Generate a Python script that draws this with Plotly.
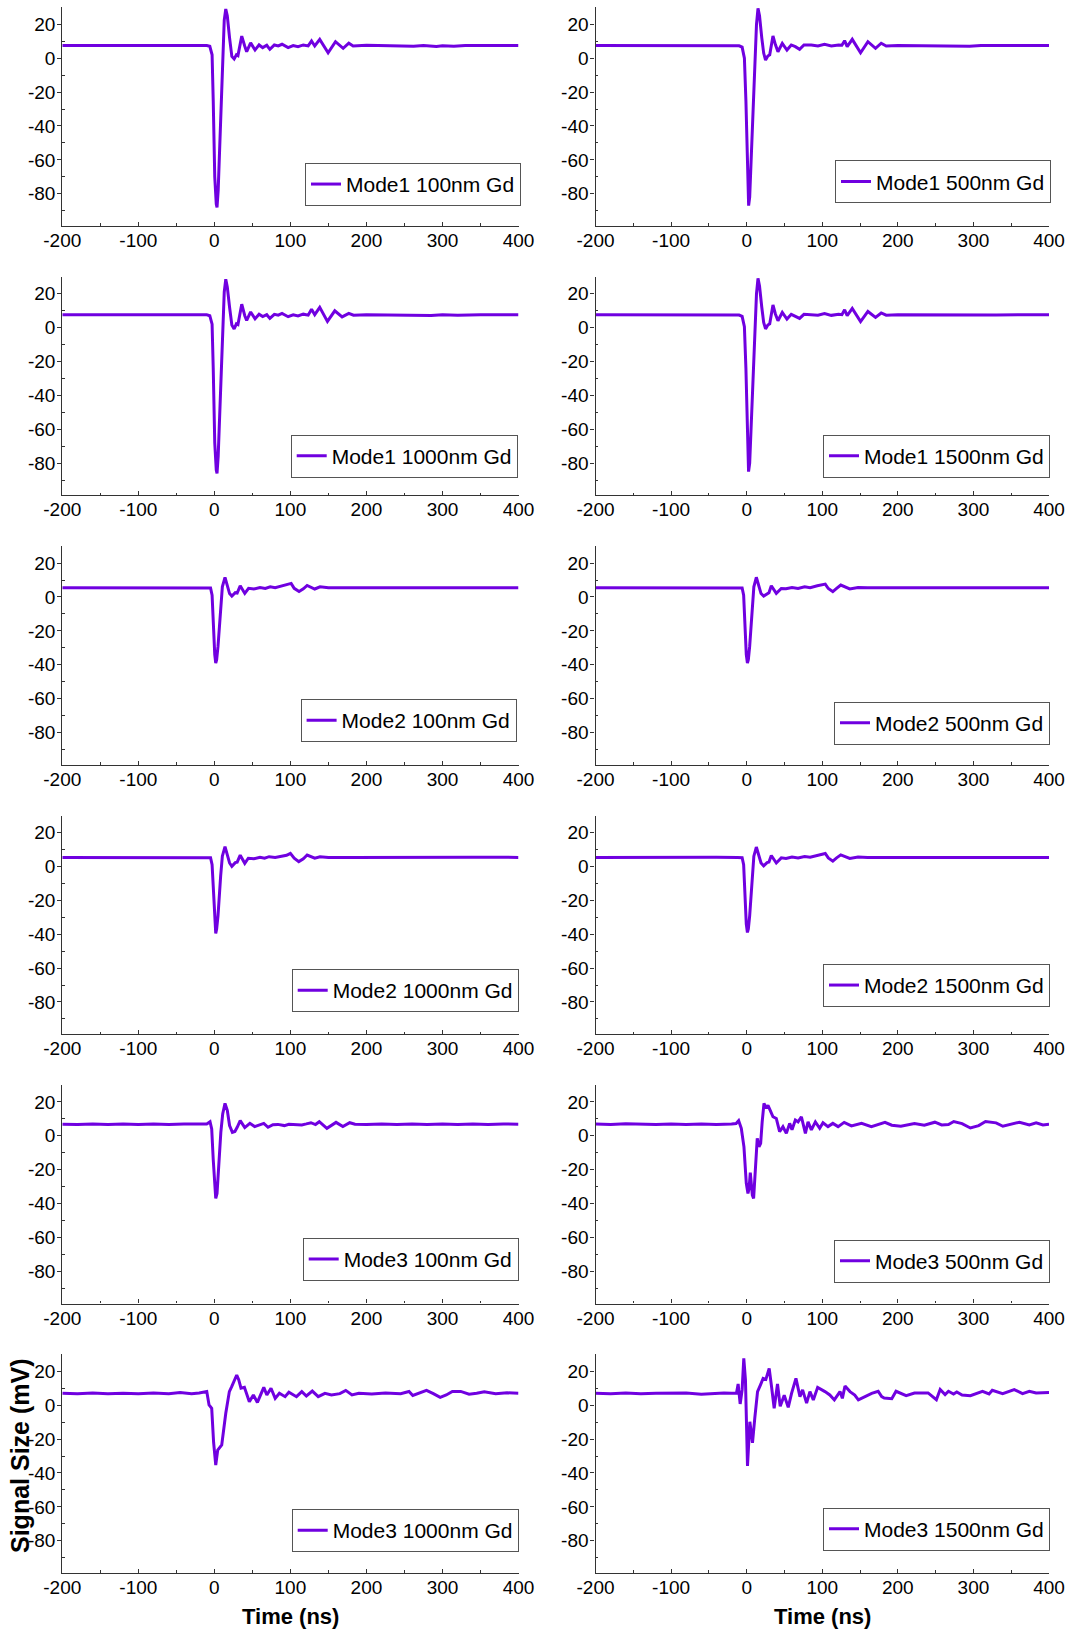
import plotly.graph_objects as go

# Oscilloscope traces: (time in ns, signal in mV)
m1_100 = [(-200, 7.5), (-170, 7.5), (-140, 7.4), (-110, 7.5), (-80, 7.5), (-50, 7.4), (-20, 7.5), (-10, 7.5),
          (-6, 7.0), (-3, 2.0), (-1.5, -25), (0.5, -70), (2.5, -86), (3.5, -88), (5, -78), (7.5, -44), (10.5, -5),
          (13, 22.5), (15, 29), (17, 25), (20, 12), (23, 1), (26, -0.5), (29, 2), (31, 1.5), (36, 13), (40, 7),
          (42.5, 3.8), (47.7, 9), (53.5, 4.8), (58.8, 7.8), (63.6, 6.2), (68.9, 7.6), (73, 5.2), (78.9, 7.8),
          (84, 7.2), (89, 8.2), (97, 6.2), (103.7, 7.4), (110, 6.8), (116.9, 7.8), (123.4, 7.2), (127.8, 10.1),
          (132, 7.2), (138.6, 11.1), (149.6, 3.2), (159.3, 9.7), (169.4, 5.8), (176.8, 8.8), (182.5, 7.2),
          (200, 7.6), (230, 7.4), (262, 7.0), (275, 7.5), (292, 6.9), (300, 7.3), (315, 7.0), (330, 7.5),
          (360, 7.4), (400, 7.5)]

m1_500 = [(-200, 7.4), (-170, 7.4), (-140, 7.5), (-110, 7.4), (-80, 7.4), (-50, 7.5), (-20, 7.4), (-10, 7.3),
          (-6, 6.5), (-3, 0), (-1, -25), (1, -68), (2.6, -87), (4, -82), (6, -60), (8.5, -30), (11, 0), (13, 20),
          (15, 29.4), (17, 25), (20, 12), (22.5, 3), (25, -1.1), (28, 1.3), (30.5, 2), (34.8, 13.1), (38, 8),
          (41.4, 3.8), (47.1, 8.7), (53.3, 4.8), (59, 7.8), (64.4, 6.8), (70, 5.2), (75.8, 7.8), (85.5, 7.8),
          (94.3, 7.2), (103, 8.2), (112, 7.2), (121.7, 7.8), (126, 7.6), (129.6, 10.3), (133, 6.8), (139.7, 11.1),
          (150.7, 3.2), (160.4, 9.7), (170.5, 5.8), (178, 8.8), (184.6, 7.2), (200, 7.5), (230, 7.3), (260, 7.5),
          (280, 7.2), (295, 7.0), (310, 7.4), (330, 7.3), (360, 7.5), (400, 7.4)]

m1_1000 = [(-200, 7.5), (-170, 7.6), (-140, 7.5), (-110, 7.5), (-80, 7.6), (-50, 7.5), (-20, 7.5), (-10, 7.5),
           (-6, 7.0), (-3, 2.0), (-1.5, -24), (0.5, -68), (2.5, -84), (3.5, -86), (5, -76), (7.5, -43), (10.5, -5),
           (13, 21), (15, 28.5), (17, 24), (20, 12), (23, 1.5), (26, -0.8), (29, 2.2), (31, 1.8), (36, 13.8),
           (40, 7), (42.5, 4.2), (47.7, 9.2), (53.5, 5.2), (58.8, 7.9), (63.6, 6.5), (68.9, 7.6), (73, 5.4),
           (78.9, 7.8), (84, 7.3), (89, 8.3), (97, 6.4), (103.7, 7.5), (110, 6.9), (116.9, 7.9), (123.4, 7.3),
           (127.8, 10.8), (132, 7.6), (138.6, 11.9), (148.7, 3.6), (158.4, 9.9), (168, 6.3), (176.8, 8.4),
           (183, 7.3), (200, 7.6), (230, 7.4), (260, 7.5), (285, 7.1), (300, 7.5), (320, 7.3), (350, 7.5),
           (380, 7.4), (400, 7.5)]

m1_1500 = [(-200, 7.5), (-170, 7.5), (-140, 7.4), (-110, 7.5), (-80, 7.5), (-50, 7.4), (-20, 7.5), (-10, 7.4),
           (-6, 6.6), (-3, 0.5), (-1, -24), (1, -66), (2.5, -85), (4, -80), (6, -58), (8.5, -29), (11, 0), (13, 20),
           (15, 29), (17, 24.5), (20, 12), (22.5, 3), (25, -0.8), (28, 1.5), (30.5, 2.2), (34.8, 13.3), (38, 8),
           (41.4, 4), (47.1, 8.9), (53.3, 5), (59, 7.8), (64.4, 6.8), (70, 5.4), (75.8, 7.8), (85.5, 7.6),
           (94.3, 7.3), (103, 8.2), (112, 7.2), (121.7, 7.8), (126, 7.6), (129.6, 10.5), (133, 7), (139.7, 11.3),
           (150.7, 3.5), (160.4, 9.5), (170.5, 6), (178, 8.6), (184.6, 7.3), (200, 7.5), (230, 7.4), (260, 7.5),
           (285, 7.2), (300, 7.4), (330, 7.4), (360, 7.5), (400, 7.5)]

m2_100 = [(-200, 5.5), (-160, 5.5), (-120, 5.4), (-80, 5.5), (-40, 5.5), (-12, 5.5), (-5, 5.3), (-3, 1), (-1, -20),
          (0.5, -34), (1.8, -39), (3, -37), (4.8, -29), (8.3, -5.8), (10.5, 6), (14, 11.6), (17, 7), (20, 2),
          (23, 0.5), (27.5, 2.5), (30, 2.3), (34, 6.6), (40, 2.1), (45, 5.1), (52, 4.7), (60, 5.6), (67, 5.0),
          (73.5, 6), (80, 5.4), (90, 6.6), (97, 7.4), (101, 8), (105, 5.1), (111.4, 3.2), (117, 4.8), (122, 6.8),
          (132, 4.7), (139, 6), (150, 5.5), (180, 5.4), (220, 5.5), (260, 5.4), (300, 5.5), (340, 5.5), (400, 5.5)]

m2_500 = [(-200, 5.5), (-160, 5.5), (-120, 5.5), (-80, 5.4), (-40, 5.5), (-12, 5.5), (-6, 5.3), (-4, 1), (-2, -20),
          (-0.5, -34), (1, -39), (2.2, -37), (4, -29), (7.3, -5.8), (9.5, 6), (12.8, 11.6), (16, 7), (19, 2),
          (22.5, 0.5), (27, 2.1), (29.5, 2.5), (32.6, 6.6), (39.2, 2.1), (45.8, 5), (52, 4.8), (60, 5.6), (68, 5.0),
          (76.7, 6), (84, 5.5), (93.5, 6.6), (99, 7), (104, 7.6), (108, 5), (114, 3.1), (119, 5), (124.5, 7),
          (136.4, 4.7), (147.4, 5.6), (160, 5.5), (200, 5.5), (240, 5.4), (280, 5.5), (320, 5.5), (360, 5.4),
          (400, 5.5)]

m2_1000 = [(-200, 5.3), (-160, 5.3), (-120, 5.4), (-80, 5.3), (-40, 5.3), (-12, 5.3), (-5, 5.1), (-3, 1), (-1, -20),
           (0.5, -34), (1.8, -39.5), (3, -37), (4.8, -29), (8.3, -5.5), (10.5, 6), (14, 11.6), (17, 7), (20, 2),
           (23, 0), (27.5, 2.2), (30, 2.5), (34, 6.6), (40, 1.8), (44.6, 4.8), (52, 4.5), (60, 5.4), (66, 4.8),
           (72, 5.7), (80, 5.3), (90, 6.1), (95, 6.5), (100, 7.7), (105, 4.8), (111, 2.8), (117, 4.5), (122, 6.7),
           (132, 4.8), (139, 5.7), (150, 5.3), (180, 5.3), (220, 5.4), (260, 5.3), (300, 5.3), (340, 5.4),
           (400, 5.3)]

m2_1500 = [(-200, 5.3), (-160, 5.4), (-120, 5.3), (-80, 5.3), (-40, 5.4), (-12, 5.3), (-6, 5.1), (-4, 1), (-2, -20),
           (-0.5, -34), (1, -39), (2.2, -37), (4, -29), (7.3, -5.5), (9.5, 6), (12.8, 11.4), (16, 7), (19, 2),
           (22.5, 0.3), (27, 2.2), (29.5, 2.5), (32.6, 6.4), (39.2, 2), (45.8, 5), (52, 4.6), (60, 5.5), (68, 4.9),
           (76.7, 5.8), (84, 5.4), (93.5, 6.5), (99, 7.2), (104, 7.6), (108, 5), (114, 3.1), (119, 5), (124.5, 6.8),
           (136.4, 4.7), (147.4, 5.5), (160, 5.3), (200, 5.3), (240, 5.4), (280, 5.3), (320, 5.3), (360, 5.4),
           (400, 5.3)]

m3_100 = [(-200, 6.8), (-180, 6.6), (-160, 7.0), (-140, 6.7), (-120, 6.9), (-100, 6.6), (-80, 7.0), (-60, 6.7),
          (-40, 6.9), (-20, 6.7), (-10, 7.0), (-5.7, 8.3), (-3.5, 4), (-1.5, -14), (0.5, -32), (1.8, -37),
          (3.5, -34), (5.5, -18), (8.5, 2), (11, 13), (14, 19.1), (17, 15), (20, 6), (23.7, 2), (27, 2.5), (30, 5),
          (34, 8.9), (40, 4.8), (46.7, 7.3), (53, 5.4), (59, 6.5), (65, 7.3), (70.6, 5), (77, 6.5), (83.6, 6.7),
          (92, 6), (98, 6.8), (105, 6.7), (115, 6.4), (121, 7.0), (127, 7.7), (133, 6.6), (138, 8.3), (148, 4.4),
          (160, 7.9), (169, 5.4), (178, 7.7), (185, 6.8), (200, 6.6), (220, 7.0), (240, 6.7), (260, 6.9),
          (280, 6.6), (300, 7.0), (320, 6.7), (340, 6.9), (360, 6.6), (380, 7.0), (400, 6.8)]

m3_500 = [(-200, 6.9), (-180, 6.6), (-160, 7.1), (-140, 6.8), (-120, 6.6), (-100, 7.0), (-80, 6.7), (-60, 7.0),
          (-40, 6.6), (-20, 6.9), (-14, 7.2), (-10.6, 8.9), (-7.1, 4.4), (-3.6, -6.5), (-0.5, -28), (1.7, -34),
          (3.2, -31), (4.8, -21.8), (6.3, -30), (7.5, -35), (9.2, -37), (11.4, -18.2), (14, -1.5), (16.3, -6.5),
          (18.5, -4.5), (20.5, 8), (22.9, 19.1), (26, 16.2), (28.2, 18), (31.3, 14.8), (34.8, 11.2), (39.2, 10.2),
          (43.6, 2.4), (48, 5.3), (52.5, 1.4), (56.9, 7.3), (60, 3.5), (64.4, 9.3), (68, 8.2), (72.4, 11.2),
          (77.7, 1.4), (81.2, 8.2), (85.6, 3.5), (90.9, 8.2), (96.6, 4.4), (101, 7.7), (107.6, 5.4), (114, 7.3),
          (121, 5.4), (129, 7.9), (138.6, 5.8), (152, 7.3), (165, 5.4), (183, 7.9), (192, 6.2), (204, 5.6),
          (222, 7.2), (235, 6.2), (249, 8), (258, 6.4), (267, 6.6), (274, 8.4), (285, 7.2), (296, 4.6), (307, 6),
          (316, 8.4), (330, 7.6), (339, 5.6), (350, 6.8), (361, 8), (374, 6.4), (383, 7.6), (392, 6.4), (400, 6.8)]

m3_1000 = [(-200, 7.0), (-180, 6.7), (-160, 7.1), (-140, 6.8), (-120, 7.0), (-100, 6.7), (-80, 7.1), (-60, 6.8),
           (-45, 7.4), (-30, 6.8), (-20, 7.2), (-10, 8), (-7, 0.1), (-3.5, -1.9), (-1, -22), (1.8, -35.3),
           (4.4, -26.5), (9.7, -23.5), (15, -4.8), (19.7, 8), (22.8, 10.9), (29.4, 17.8), (32, 15), (35, 10),
           (39.5, 10.5), (46, 2), (51.3, 6), (56.6, 1.6), (65, 10.5), (69, 6), (74.5, 10), (80, 4), (85.5, 7),
           (93, 5), (98, 7.6), (108, 5), (115, 8), (121, 5.4), (128.8, 8.3), (136.6, 5), (145.4, 7), (154, 6),
           (165, 6.8), (172.8, 8.7), (181, 6), (190, 7), (207, 6.6), (225, 7.1), (245, 6.8), (256, 8.1), (261, 5.7),
           (270, 7.0), (279, 8.7), (288, 6.8), (297, 4.6), (305, 6.0), (313, 8.1), (324, 8.1), (335, 6.5),
           (345, 7.0), (355, 7.9), (370, 6.8), (385, 7.3), (400, 7.0)]

m3_1500 = [(-200, 7.0), (-180, 6.8), (-160, 7.1), (-140, 6.8), (-120, 7.0), (-100, 6.9), (-80, 7.1), (-60, 6.4),
           (-45, 6.8), (-30, 7.2), (-20, 7.0), (-13.5, 7), (-11.3, 12.5), (-8.6, 0.7), (-6, 9), (-3.8, 27.6),
           (-1.6, 14.8), (1.1, -35.9), (4.2, -9.8), (7.7, -22.2), (10.8, -7.4), (14.4, 8), (18.3, 12), (21.8, 15.8),
           (25.4, 15.2), (29.8, 21.7), (32.9, 11), (36.4, -1.9), (40.8, 12.5), (44.4, -0.7), (49.7, 5.9),
           (55, -1.3), (59.4, 7), (65.2, 15.8), (70.5, 5), (74, 9), (79.3, 1.2), (83.7, 8), (88.2, 3.1),
           (93.9, 10.5), (103.6, 8), (110, 6), (116, 3.1), (123.5, 8), (126.6, 4), (130.1, 11.3), (136.7, 8),
           (143, 6), (147.8, 3.1), (156.6, 5), (165.4, 7), (174, 8.2), (178.6, 5), (182, 4.2), (192, 3.8),
           (197.6, 8.2), (211, 5.6), (222, 7.2), (240, 7.2), (251, 3.2), (256, 9.2), (262.5, 6.2), (267, 8.2),
           (273.7, 6.6), (278, 7.8), (285, 6), (296, 5.6), (312, 8.2), (320.7, 6.6), (325, 8.8), (338.7, 6.8),
           (354, 9.2), (365, 6.8), (374, 8.2), (383, 7.2), (400, 7.4)]

labels = ["Mode1 100nm Gd", "Mode1 500nm Gd", "Mode1 1000nm Gd", "Mode1 1500nm Gd",
          "Mode2 100nm Gd", "Mode2 500nm Gd", "Mode2 1000nm Gd", "Mode2 1500nm Gd",
          "Mode3 100nm Gd", "Mode3 500nm Gd", "Mode3 1000nm Gd", "Mode3 1500nm Gd"]
series = [m1_100, m1_500, m1_1000, m1_1500, m2_100, m2_500,
          m2_1000, m2_1500, m3_100, m3_500, m3_1000, m3_1500]

x_range = [-200, 400]
y_range = [-99, 30]
x_tickvals = [-200, -100, 0, 100, 200, 300, 400]
x_ticktext = ["-200", "-100", "0", "100", "200", "300", "400"]
y_tickvals = [-80, -60, -40, -20, 0, 20]
y_ticktext = ["-80", "-60", "-40", "-20", "0", "20"]

# ---- geometry (pixels) ----
W, H = 1076, 1634
COL_X = [(62.3, 518.5), (595.5, 1049.0)]
ROW_TOP0, PLOT_H, ROW_PITCH = 7.3, 218.7, 269.4
# legend anchor: right edge x, centre y (px)
LEG_POS = [(521, 184.4), (1051, 181.8), (517.7, 456), (1050, 456),
           (516.6, 720.5), (1050, 723), (518.7, 990.5), (1050, 985.4),
           (518.7, 1259.4), (1050, 1261), (518.7, 1530.6), (1050, 1529)]

PURPLE = "#7000E0"
AXIS_COL = "#333333"
FONT = "Arial, Liberation Sans, sans-serif"

fig = go.Figure()
layout = dict(
    width=W, height=H,
    margin=dict(l=0, r=0, t=0, b=0),
    paper_bgcolor="white", plot_bgcolor="white",
    font=dict(family=FONT, color="black"),
)

for i, (data, label) in enumerate(zip(series, labels)):
    r, c = divmod(i, 2)
    n = i + 1
    sfx = "" if n == 1 else str(n)
    t_vals = [p[0] for p in data]
    v_vals = [p[1] for p in data]
    leg_name = "legend" + sfx
    fig.add_trace(go.Scatter(
        x=t_vals, y=v_vals, mode="lines", name=label,
        line=dict(color=PURPLE, width=3),
        xaxis="x" + sfx, yaxis="y" + sfx, legend=leg_name, showlegend=True,
    ))
    top = ROW_TOP0 + r * ROW_PITCH
    bot = top + PLOT_H
    x0, x1 = COL_X[c]
    layout["xaxis" + sfx] = dict(
        domain=[x0 / W, x1 / W], anchor="y" + sfx, range=x_range,
        tickmode="array", tickvals=x_tickvals, ticktext=x_ticktext,
        ticks="inside", ticklen=4, tickwidth=1, tickcolor=AXIS_COL,
        ticklabelstandoff=-3,
        minor=dict(tickmode="array", tickvals=[-150, -50, 50, 150, 250, 350],
                   ticks="inside", ticklen=2.5, tickcolor=AXIS_COL),
        showline=True, linecolor=AXIS_COL, linewidth=1.3,
        showgrid=False, zeroline=False, automargin=False,
        tickfont=dict(size=19, family=FONT, color="black"),
    )
    layout["yaxis" + sfx] = dict(
        domain=[1 - bot / H, 1 - top / H], anchor="x" + sfx, range=y_range,
        tickmode="array", tickvals=y_tickvals, ticktext=y_ticktext,
        ticks="outside", ticklen=4, tickwidth=1, tickcolor=AXIS_COL,
        ticklabelstandoff=-2,
        minor=dict(tickmode="array", tickvals=[-90, -70, -50, -30, -10, 10],
                   ticks="inside", ticklen=2.5, tickcolor=AXIS_COL),
        showline=True, linecolor=AXIS_COL, linewidth=1.3,
        showgrid=False, zeroline=False, automargin=False,
        tickfont=dict(size=19, family=FONT, color="black"),
    )
    lx, ly = LEG_POS[i]
    layout[leg_name] = dict(
        x=lx / W, y=1 - ly / H, xanchor="right", yanchor="middle",
        bgcolor="white", bordercolor="#555555", borderwidth=1,
        font=dict(size=21, family=FONT, color="black"),
        itemwidth=30, tracegroupgap=0,
    )

layout["annotations"] = [
    dict(text="<b>Signal Size (mV)</b>", x=20 / W, y=1 - 1456 / H, xref="paper", yref="paper",
         textangle=-90, showarrow=False, font=dict(size=25, family=FONT, color="black"),
         xanchor="center", yanchor="middle"),
    dict(text="<b>Time (ns)</b>", x=290.4 / W, y=1 - 1616.6 / H, xref="paper", yref="paper",
         showarrow=False, font=dict(size=22, family=FONT, color="black"),
         xanchor="center", yanchor="middle"),
    dict(text="<b>Time (ns)</b>", x=822.3 / W, y=1 - 1616.6 / H, xref="paper", yref="paper",
         showarrow=False, font=dict(size=22, family=FONT, color="black"),
         xanchor="center", yanchor="middle"),
]

fig.update_layout(**layout)
fig.write_html("out.html")
